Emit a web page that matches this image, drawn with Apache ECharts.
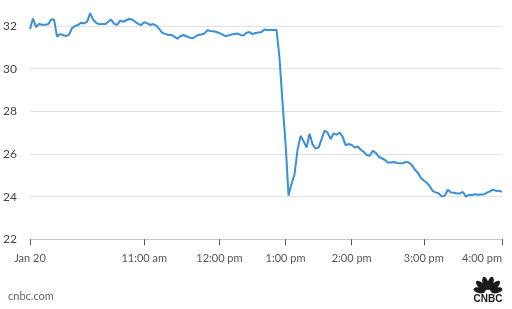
<!DOCTYPE html>
<html>
<head>
<meta charset="utf-8">
<style>
html,body{margin:0;padding:0;background:#fff;}
#chart{width:512px;height:309px;}
</style>
<script src="https://cdn.jsdelivr.net/npm/echarts@6/dist/echarts.min.js"></script>
</head>
<body>
<div id="chart"></div>
<script>
// Intraday price samples (roughly every ~2.4 minutes of trading)
const prices = [
  31.86, 32.35, 31.95, 32.09, 32.06, 32.06, 32.08, 32.30, 32.30, 31.50,
  31.62, 31.58, 31.53, 31.60, 31.90, 32.00, 32.05, 32.15, 32.12, 32.20,
  32.60, 32.30, 32.15, 32.08, 32.10, 32.08, 32.20, 32.30, 32.10, 32.05,
  32.25, 32.20, 32.27, 32.33, 32.30, 32.20, 32.10, 32.05, 32.18, 32.12,
  32.05, 32.09, 32.02, 31.85, 31.68, 31.63, 31.58, 31.58, 31.50, 31.40,
  31.52, 31.58, 31.52, 31.46, 31.42, 31.50, 31.58, 31.60, 31.65, 31.80,
  31.77, 31.75, 31.72, 31.67, 31.60, 31.53, 31.55, 31.60, 31.63, 31.65,
  31.58, 31.55, 31.68, 31.72, 31.62, 31.67, 31.70, 31.72, 31.84, 31.81,
  31.81, 31.81, 31.82, 30.50, 28.40, 26.50, 24.05, 24.60, 25.05, 26.20,
  26.85, 26.60, 26.30, 26.95, 26.45, 26.25, 26.30, 26.70, 27.10, 27.00,
  26.70, 26.97, 26.90, 27.00, 26.80, 26.40, 26.47, 26.42, 26.30, 26.35,
  26.20, 26.10, 25.95, 25.92, 26.15, 26.05, 25.87, 25.80, 25.73, 25.60,
  25.60, 25.62, 25.58, 25.57, 25.56, 25.63, 25.60, 25.48, 25.27, 25.12,
  24.88, 24.76, 24.65, 24.48, 24.26, 24.20, 24.15, 24.00, 24.05, 24.32,
  24.20, 24.18, 24.15, 24.15, 24.22, 24.00, 24.08, 24.08, 24.11, 24.09,
  24.10, 24.10, 24.19, 24.25, 24.33, 24.27, 24.28, 24.22
];
const tickIndex  = [0, 38, 63, 85, 107, 131, 157];
const tickLabels = ['Jan 20', '11:00 am', '12:00 pm', '1:00 pm', '2:00 pm', '3:00 pm', '4:00 pm'];
const yTicks = [22, 24, 26, 28, 30, 32];

const categories = prices.map((_, i) => String(i));
const tickMap = {};
tickIndex.forEach((idx, k) => { tickMap[idx] = tickLabels[k]; });
const isTick = (i) => Object.prototype.hasOwnProperty.call(tickMap, i);

const chart = echarts.init(document.getElementById('chart'), null, {renderer: 'canvas'});

function feather(angleDeg, dist, rx, ry) {
  const bx = 488, by = 292.5;
  const t = angleDeg * Math.PI / 180;
  return {
    type: 'ellipse',
    x: bx + dist * Math.sin(t),
    y: by - dist * Math.cos(t),
    rotation: -t,
    shape: {cx: 0, cy: 0, rx: rx, ry: ry},
    style: {fill: '#1a1a1a'},
    silent: true
  };
}

chart.setOption({
  backgroundColor: '#ffffff',
  animation: false,
  grid: {left: 30, right: 10, top: 26, bottom: 69.7, containLabel: false},
  xAxis: {
    type: 'category',
    data: categories,
    boundaryGap: false,
    axisLine: {show: true, lineStyle: {color: '#c8c8c8', width: 1}},
    axisTick: {
      show: true, length: 6,
      interval: (i) => isTick(i),
      lineStyle: {color: '#555', width: 1}
    },
    axisLabel: {
      interval: (i) => isTick(i),
      formatter: (v, i) => tickMap[i] || '',
      color: '#555',
      fontFamily: 'Lato',
      fontSize: 11,
      margin: 14,
      alignMaxLabel: 'right'
    },
    splitLine: {show: false}
  },
  yAxis: {
    type: 'value',
    min: yTicks[0],
    max: yTicks[yTicks.length - 1],
    interval: 2,
    axisLine: {show: false},
    axisTick: {show: false},
    axisLabel: {color: '#444', fontFamily: 'Lato', fontSize: 12, margin: 13},
    splitLine: {show: true, lineStyle: {color: '#e2e2e2', width: 1}}
  },
  series: [{
    type: 'line',
    data: prices,
    showSymbol: false,
    clip: false,
    lineStyle: {color: '#3a8fd6', width: 2},
    itemStyle: {color: '#3a8fd6'},
    z: 3
  }],
  graphic: [
    {type: 'text', left: 8, top: 291, style: {text: 'cnbc.com', fill: '#666', font: '11px Lato'}, silent: true},
    feather(-76, 9, 2.8, 5.8),
    feather(-46, 9.5, 2.9, 6.6),
    feather(-15, 9.5, 2.9, 6.8),
    feather(15, 9.5, 2.9, 6.8),
    feather(46, 9.5, 2.9, 6.6),
    feather(76, 9, 2.8, 5.8),
    {type: 'text', x: 488, y: 298.8, style: {text: 'CNBC', fill: '#1a1a1a', font: '900 10px "Liberation Sans", Arial', textAlign: 'center', textVerticalAlign: 'middle'}, silent: true}
  ]
});
</script>
</body>
</html>
